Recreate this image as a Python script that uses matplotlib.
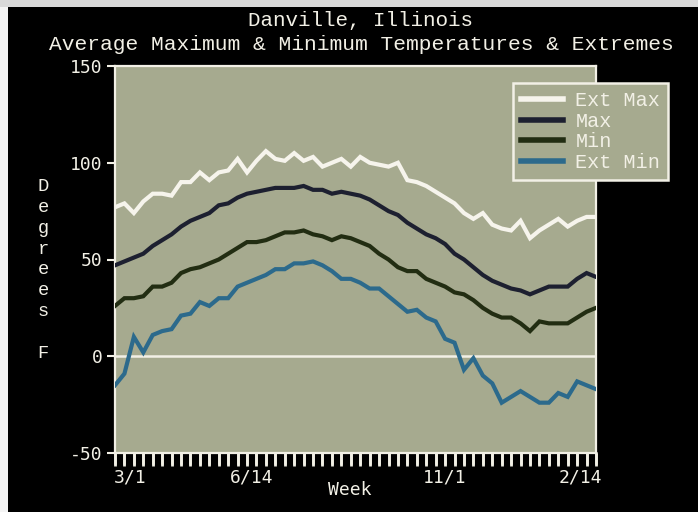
import matplotlib
matplotlib.use("Agg")
import matplotlib.pyplot as plt
from matplotlib.patches import Rectangle
from matplotlib.lines import Line2D
from matplotlib.transforms import blended_transform_factory
import numpy as np

# ---- data ----
weeks = list(range(52))
ext_max = [77, 79, 74, 80, 84, 84, 83, 90, 90, 95, 91, 95, 96, 102, 95, 101,
           106, 102, 101, 105, 101, 103, 98, 100, 102, 98, 103, 100, 99, 98, 100, 91,
           90, 88, 85, 82, 79, 74, 71, 74, 68, 66, 65, 70, 61, 65, 68, 71,
           67, 70, 72, 72]
avg_max = [47, 49, 51, 53, 57, 60, 63, 67, 70, 72, 74, 78, 79, 82, 84, 85,
           86, 87, 87, 87, 88, 86, 86, 84, 85, 84, 83, 81, 78, 75, 73, 69,
           66, 63, 61, 58, 53, 50, 46, 42, 39, 37, 35, 34, 32, 34, 36, 36,
           36, 40, 43, 41]
avg_min = [26, 30, 30, 31, 36, 36, 38, 43, 45, 46, 48, 50, 53, 56, 59, 59,
           60, 62, 64, 64, 65, 63, 62, 60, 62, 61, 59, 57, 53, 50, 46, 44,
           44, 40, 38, 36, 33, 32, 29, 25, 22, 20, 20, 17, 13, 18, 17, 17,
           17, 20, 23, 25]
ext_min = [-15, -9, 10, 2, 11, 13, 14, 21, 22, 28, 26, 30, 30, 36, 38, 40,
           42, 45, 45, 48, 48, 49, 47, 44, 40, 40, 38, 35, 35, 31, 27, 23,
           24, 20, 18, 9, 7, -7, -1, -10, -14, -24, -21, -18, -21, -24, -24, -19,
           -21, -13, -15, -17]
series_names = ["Ext Max", "Max", "Min", "Ext Min"]
x_tick_labels = ["3/1", "6/14", "11/1", "2/14"]
x_label_pos = [1.6, 14.5, 34.9, 49.3]
y_ticks = [-50, 0, 50, 100, 150]

# ---- style ----
BG = "#a6aa8f"
FG = "#f2f0e6"
colors = ["#f6f4ec", "#1d2030", "#222d12", "#2c6a8c"]
MONO = ["Liberation Mono", "DejaVu Sans Mono"]
SMONO = ["DejaVu Sans Mono"]

fig = plt.figure(figsize=(6.98, 5.12), dpi=100, facecolor="black")
# scan edges
fig.patches.append(Rectangle((0, 0), 8/698, 1, transform=fig.transFigure,
                             facecolor="#f4f4f4", edgecolor="none", zorder=-5))
fig.patches.append(Rectangle((0, 1-7/512), 1, 7/512, transform=fig.transFigure,
                             facecolor="#d9d9d9", edgecolor="none", zorder=-5))

ax = fig.add_axes([115/698, 1-453/512, 481/698, 387/512])
ax.set_facecolor(BG)

ax.axhline(0, color=FG, lw=1.8, zorder=1)
for vals, name, c in zip([ext_max, avg_max, avg_min, ext_min], series_names, colors):
    ax.plot(weeks, vals, color=c, lw=3.0, label=name, zorder=3,
            solid_joinstyle="miter")

ax.set_xlim(0, 51)
ax.set_ylim(-50, 150)

for s in ax.spines.values():
    s.set_color(FG)
    s.set_linewidth(1.6)

ax.set_yticks(y_ticks)
ax.set_yticklabels([str(v) for v in y_ticks], family=SMONO, fontsize=13, color=FG)
ax.tick_params(axis="y", colors=FG, length=6, width=1.5, direction="out", pad=3)

# weekly comb ticks below the axis (standard ticks + explicit lines)
ax.set_xticks(weeks)
ax.set_xticklabels([""] * len(weeks))
ax.tick_params(axis="x", which="major", length=9, width=2.0, color=FG,
               direction="out", bottom=True, top=False)
trans = blended_transform_factory(ax.transData, ax.transAxes)
for w in weeks:
    ax.add_line(Line2D([w, w], [-10/387, 0], transform=trans, color=FG,
                       linewidth=1.8, clip_on=False, zorder=6))
for pos, lab in zip(x_label_pos, x_tick_labels):
    ax.text(pos, -15/387, lab, transform=trans, family=SMONO, fontsize=13,
            color=FG, ha="center", va="top", clip_on=False)

fig.text(350/698, 1-490/512, "Week", family=SMONO, fontsize=13, color=FG,
         ha="center", va="center")
fig.text(43/698, 1-270/512, "\n".join(list("Degrees")) + "\n\nF", family=MONO,
         fontsize=13.5, color=FG, ha="center", va="center", linespacing=1.3)

fig.text(361/698, 1-21/512, "Danville, Illinois", family=MONO, fontsize=15,
         color=FG, ha="center", va="center")
fig.text(361/698, 1-45/512, "Average Maximum & Minimum Temperatures & Extremes",
         family=MONO, fontsize=15.3, color=FG, ha="center", va="center")

leg = ax.legend(loc="upper left", bbox_to_anchor=((513-115)/481, (453-83)/387),
                prop={"family": MONO, "size": 14.5}, frameon=True, fancybox=False,
                facecolor=BG, edgecolor=FG, framealpha=1, labelspacing=0.08,
                handlelength=2.1, handletextpad=0.6, borderpad=0.4,
                borderaxespad=0)
leg.get_frame().set_linewidth(1.8)
leg.set_zorder(10)
for t in leg.get_texts():
    t.set_color(FG)
for h in leg.get_lines():
    h.set_linewidth(4)

fig.savefig("out.png", dpi=100, facecolor=fig.get_facecolor())
